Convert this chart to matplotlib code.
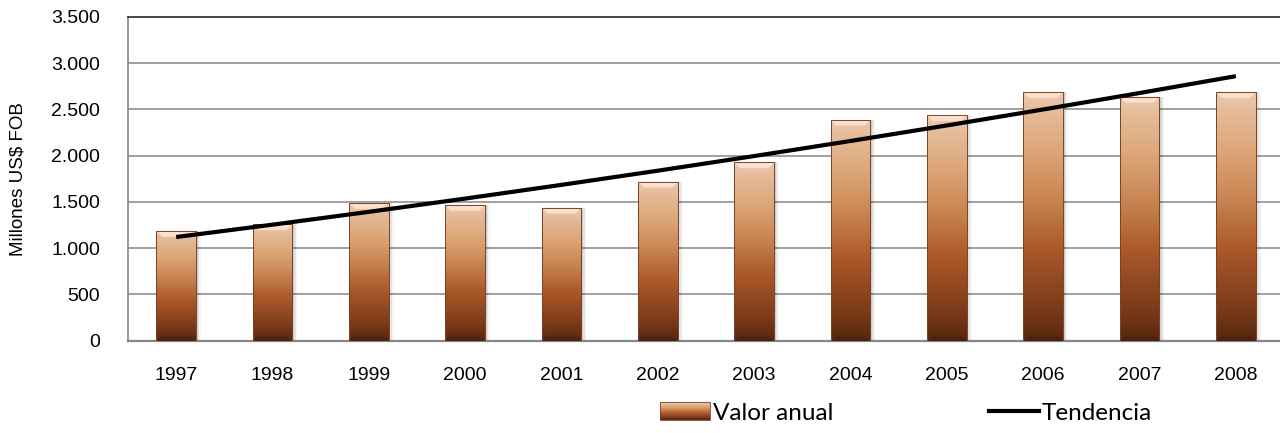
import numpy as np
import matplotlib
matplotlib.use('Agg')
import matplotlib.pyplot as plt
from matplotlib.colors import LinearSegmentedColormap
from matplotlib.patches import Rectangle, Polygon
from matplotlib.lines import Line2D
from matplotlib.legend_handler import HandlerBase
from matplotlib.ticker import FuncFormatter, MultipleLocator

# data
years = ['1997', '1998', '1999', '2000', '2001', '2002',
         '2003', '2004', '2005', '2006', '2007', '2008']
valor_anual = [1190, 1260, 1490, 1470, 1440, 1720,
               1930, 2390, 2440, 2690, 2640, 2690]

x = np.arange(len(years))
# polynomial (order 2) trend, like the Excel trendline
coef = np.polyfit(x, valor_anual, 2)
tendencia = np.polyval(coef, x)

bar_cmap = LinearSegmentedColormap.from_list('cobre', [
    (0.00, '#55270f'),
    (0.12, '#7a3918'),
    (0.38, '#ad5a2b'),
    (0.60, '#cc8a58'),
    (0.76, '#dca677'),
    (0.92, '#e5bb99'),
    (1.00, '#edcab0'),
])

fig = plt.figure(figsize=(12.8, 4.33), dpi=100)
ax = fig.add_axes([128/1280, 1 - 340.7/433, 1156/1280, (340.7 - 17)/433])

w = 0.415
px_x = 1156 / 12          # pixels per category
px_y = 323.7 / 3500       # pixels per unit
for xi, v in zip(x, valor_anual):
    # soft shadow on the right
    for k, a in enumerate([0.10, 0.07, 0.04]):
        d = (k + 1) * 1.6 / px_x
        ax.add_patch(Rectangle((xi - w/2 + d, 0), w, v - d * 40, facecolor='#000000',
                               alpha=a, edgecolor='none', zorder=2))
    rect = Rectangle((xi - w/2, 0), w, v, facecolor='none', edgecolor='none', zorder=3)
    ax.add_patch(rect)
    grad = np.linspace(0, 1, 256).reshape(-1, 1)
    im = ax.imshow(grad, cmap=bar_cmap, origin='lower', aspect='auto',
                   extent=[xi - w/2, xi + w/2, 0, v], zorder=3, interpolation='bilinear')
    im.set_clip_path(rect)
    # bevel on top and bottom
    bx = 6 / px_x
    by = 6 / px_y
    ax.add_patch(Polygon([(xi - w/2, v), (xi + w/2, v), (xi + w/2 - bx, v - by), (xi - w/2 + bx, v - by)],
                         closed=True, facecolor='#fde6d6', edgecolor='none', alpha=0.85, zorder=4))
    ax.add_patch(Polygon([(xi - w/2, 0), (xi + w/2, 0), (xi + w/2 - bx, by * 0.8), (xi - w/2 + bx, by * 0.8)],
                         closed=True, facecolor='#3c1a08', edgecolor='none', alpha=0.35, zorder=4))
    ax.add_patch(Rectangle((xi - w/2, 0), w, v, facecolor='none', edgecolor='#7a4326',
                           linewidth=0.7, zorder=4))

ax.plot(x, tendencia, color='black', linewidth=3, solid_capstyle='butt', zorder=5)

ax.set_xlim(-0.5, 11.5)
ax.set_ylim(0, 3500)
ax.yaxis.set_major_locator(MultipleLocator(500))
ax.yaxis.set_major_formatter(FuncFormatter(lambda v, p: f'{v:,.0f}'.replace(',', '.')))
ax.set_xticks(x)
ax.set_xticklabels(years)
ax.grid(axis='y', color='#868686', linewidth=1.1, zorder=0)
ax.set_axisbelow(True)
ax.tick_params(axis='both', length=0, labelsize=14, labelcolor='black')
ax.tick_params(axis='y', pad=20)
ax.tick_params(axis='x', pad=19)
for t in ax.get_xticklabels() + ax.get_yticklabels():
    t.set_family('Liberation Sans')

ax.spines['top'].set_color('#3a3a3a')
ax.spines['top'].set_linewidth(1.3)
ax.spines['right'].set_visible(False)
ax.spines['left'].set_color('#868686')
ax.spines['left'].set_linewidth(1.2)
ax.spines['bottom'].set_color('#868686')
ax.spines['bottom'].set_linewidth(1.6)

ax.set_ylabel('Millones US$ FOB', fontsize=13.5, family='Liberation Sans')
ax.yaxis.set_label_coords((27 - 128) / 1156, 0.5)


class GradHandler(HandlerBase):
    def create_artists(self, legend, orig_handle, xdescent, ydescent, width, height, fontsize, trans):
        arts = []
        n = 30
        for k in range(n):
            arts.append(Rectangle((-xdescent, -ydescent + height * k / n), width, height / n * 1.05,
                                  facecolor=bar_cmap((k + 0.5) / n), edgecolor='none', transform=trans))
        arts.append(Rectangle((-xdescent, -ydescent), width, height, facecolor='none',
                              edgecolor='#7a4326', linewidth=0.6, transform=trans))
        return arts


bar_handle = Rectangle((0, 0), 1, 1)
line_handle = Line2D([], [], color='black', linewidth=3)
fig.legend([bar_handle, line_handle], ['Valor anual', 'Tendencia'],
           handler_map={Rectangle: GradHandler()},
           loc='center', bbox_to_anchor=(906/1280, 1 - 413/433), ncol=2, frameon=False,
           prop={'family': 'Lato', 'size': 17.5}, handlelength=2.05, handleheight=0.7,
           handletextpad=0.12, columnspacing=6.4, borderpad=0)

fig.savefig('out.png', dpi=100)
